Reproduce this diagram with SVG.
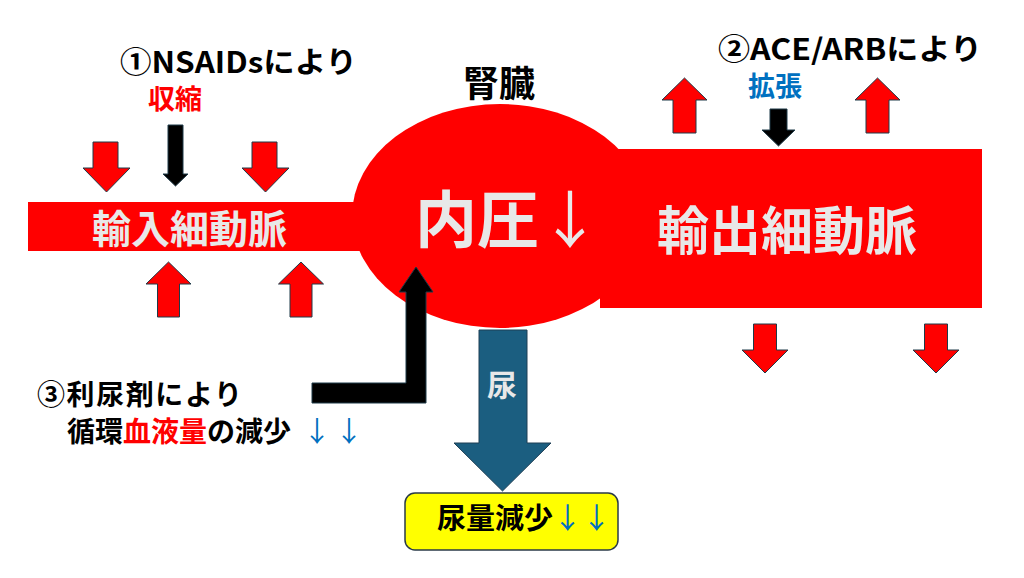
<svg xmlns="http://www.w3.org/2000/svg" width="1024" height="578" viewBox="0 0 1024 578">
<style>
text{font-family:"Noto Sans CJK JP","Noto Sans",sans-serif;font-weight:700}
.blk{fill:#000}
.lt{fill:#e8e8e8}
.red{fill:#ff0000}
.blue{fill:#0070c0}
.thin{font-weight:400}
.ra{fill:#ff0000;stroke:#1f3a48;stroke-width:1}
.ba{fill:#000;stroke:#1f3a48;stroke-width:1}
</style>
<rect width="1024" height="578" fill="#fff"/>
<g id="kidney">
<ellipse cx="500" cy="216" rx="148" ry="112" fill="#ff0000"/>
<text x="415" y="243" font-size="62" class="lt">内圧<tspan class="thin">↓</tspan></text>
</g>
<g id="afferent">
<rect x="28" y="202" width="340" height="49" fill="#ff0000"/>
<text x="92" y="243" font-size="39" class="lt">輸入細動脈</text>
</g>
<g id="efferent">
<rect x="600" y="149" width="382" height="159" fill="#ff0000"/>
<text x="657" y="250" font-size="52" class="lt">輸出細動脈</text>
</g>
<g id="kidney-label"><text x="463" y="97" font-size="36" class="blk">腎臓</text></g>
<g id="nsaids-label">
<text x="120" y="73" font-size="29" class="blk" textLength="237" lengthAdjust="spacingAndGlyphs">①NSAIDsにより</text>
<text x="148" y="109" font-size="27" class="red">収縮</text>
</g>
<g id="ace-label">
<text x="718" y="60" font-size="29" class="blk" textLength="264" lengthAdjust="spacingAndGlyphs">②ACE/ARBにより</text>
<text x="748" y="96" font-size="27" class="blue">拡張</text>
</g>
<g id="diuretic-label">
<text x="37" y="405" font-size="28" class="blk" textLength="205">③利尿剤により</text>
<text x="67" y="442" font-size="28" class="blk">循環<tspan class="red">血液量</tspan>の減少<tspan class="blue thin" dx="12">↓</tspan><tspan class="blue thin" dx="4">↓</tspan></text>
</g>
<g id="connectors">
<polygon class="ra" points="93,142 118,142 118,168 130,168 106.5,192 83,168 93,168"/>
<polygon class="ra" points="252,142 277,142 277,168 289,168 265.5,192 242,168 252,168"/>
<polygon class="ra" points="168.5,262 191,284 179.5,284 179.5,317 157.5,317 157.5,284 146,284"/>
<polygon class="ra" points="301,262 323.5,284 312,284 312,317 290,317 290,284 278.5,284"/>
<polygon class="ba" points="168,125 183,125 183,174 188,174 175.5,186 163,174 168,174"/>
<polygon class="ra" points="684.5,78 707,100 696,100 696,133 673,133 673,100 662,100"/>
<polygon class="ra" points="877.5,78 900,100 889,100 889,133 866,133 866,100 855,100"/>
<polygon class="ba" points="770,109 787,109 787,130 795,130 778.5,146 762,130 770,130"/>
<polygon class="ra" points="753.5,324 776.5,324 776.5,350 788,350 765,373 742,350 753.5,350"/>
<polygon class="ra" points="924.5,324 947.5,324 947.5,350 959,350 936,373 913,350 924.5,350"/>
<polygon class="ba" points="312,383 406,383 406,292 399,292 416,267 433,292 426,292 426,403 312,403"/>
</g>
<g id="urine-arrow">
<polygon points="479,330 527,330 527,443 551,443 502.5,491 454,443 479,443" fill="#1b5e80" stroke="#1f3f55" stroke-width="1"/>
<text x="487" y="396" font-size="30" class="lt">尿</text>
</g>
<g id="urine-result">
<rect x="405" y="493" width="213" height="57" rx="10" fill="#ffff00" stroke="#2a3a48" stroke-width="1.5"/>
<text x="437" y="529" font-size="29" class="blk">尿量減少<tspan class="blue thin">↓↓</tspan></text>
</g>
</svg>
